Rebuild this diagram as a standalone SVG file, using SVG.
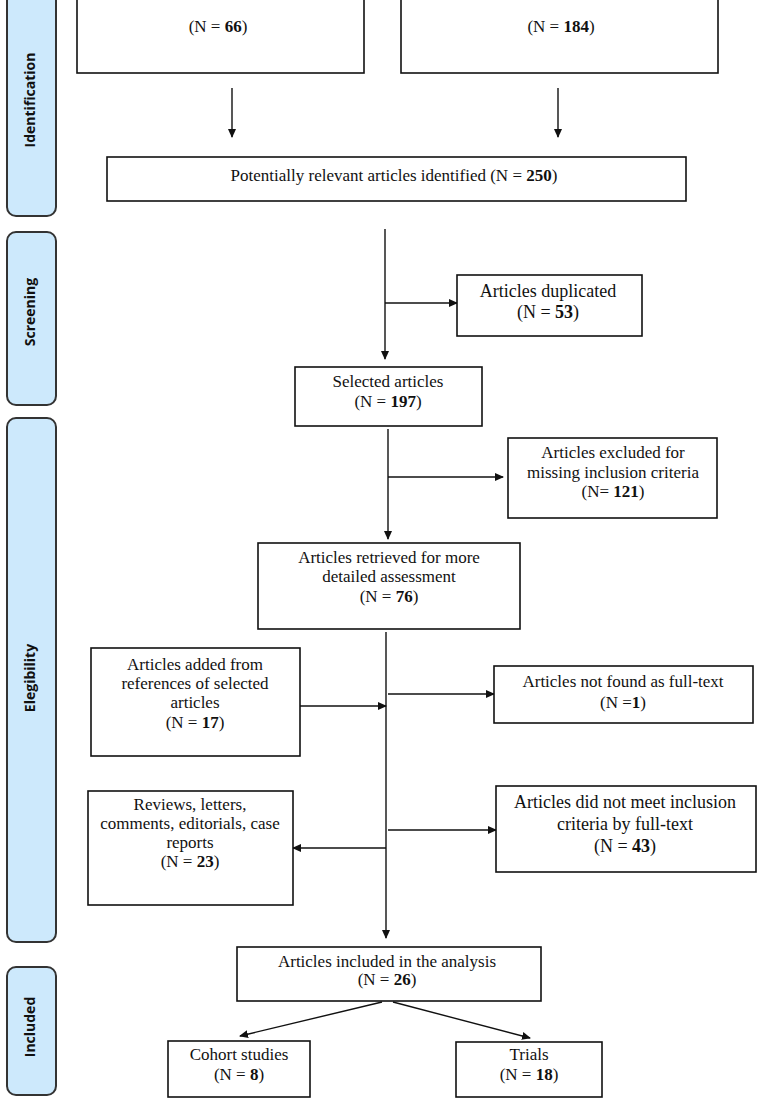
<svg xmlns="http://www.w3.org/2000/svg" width="762" height="1104" viewBox="0 0 762 1104">
<style>
.bx{fill:#fff;stroke:#111;stroke-width:1.6}
.bar{fill:#cde9fc;stroke:#333;stroke-width:2}
.t{font-family:"Liberation Serif","Times New Roman",serif;font-size:17px;fill:#111;text-anchor:middle}
.b{font-weight:bold}
.lab{font-family:"Open Sans","Liberation Sans",sans-serif;font-weight:bold;font-size:14px;fill:#111;text-anchor:middle}
.ln{fill:none;stroke:#111;stroke-width:1.4}
</style>
<defs>
<marker id="ah" markerWidth="9" markerHeight="8" refX="8" refY="4" orient="auto" markerUnits="userSpaceOnUse">
<path d="M0,0 L9,4 L0,8 Z" fill="#111"/>
</marker>
</defs>
<rect x="0" y="0" width="762" height="1104" fill="#fff"/>

<g id="phase-identification">
<rect class="bar" x="7" y="-20" width="49" height="236" rx="9"/>
<text class="lab" transform="translate(35,100) rotate(-90)">Identification</text>
</g>
<g id="phase-screening">
<rect class="bar" x="7" y="232" width="49" height="173" rx="9"/>
<text class="lab" transform="translate(35,312) rotate(-90)">Screening</text>
</g>
<g id="phase-elegibility">
<rect class="bar" x="7" y="418" width="49" height="524" rx="9"/>
<text class="lab" transform="translate(35,678) rotate(-90)">Elegibility</text>
</g>
<g id="phase-included">
<rect class="bar" x="7" y="967" width="49" height="128" rx="9"/>
<text class="lab" transform="translate(35,1027) rotate(-90)">Included</text>
</g>

<g id="connectors">
<line class="ln" x1="232" y1="88" x2="232" y2="137" marker-end="url(#ah)"/>
<line class="ln" x1="558" y1="88" x2="558" y2="137" marker-end="url(#ah)"/>
<line class="ln" x1="385" y1="229" x2="385" y2="359" marker-end="url(#ah)"/>
<line class="ln" x1="385" y1="303" x2="457" y2="303" marker-end="url(#ah)"/>
<line class="ln" x1="388" y1="429" x2="388" y2="539" marker-end="url(#ah)"/>
<line class="ln" x1="388" y1="477" x2="503" y2="477" marker-end="url(#ah)"/>
<line class="ln" x1="386" y1="632" x2="386" y2="938" marker-end="url(#ah)"/>
<line class="ln" x1="388" y1="694" x2="494" y2="694" marker-end="url(#ah)"/>
<line class="ln" x1="300" y1="706" x2="386" y2="706" marker-end="url(#ah)"/>
<line class="ln" x1="388" y1="830" x2="496" y2="830" marker-end="url(#ah)"/>
<line class="ln" x1="386" y1="848" x2="293" y2="848" marker-end="url(#ah)"/>
<line class="ln" x1="382" y1="1002" x2="240" y2="1036" marker-end="url(#ah)"/>
<line class="ln" x1="393" y1="1002" x2="530" y2="1038" marker-end="url(#ah)"/>
</g>

<g id="n-db1">
<rect class="bx" x="77" y="-30" width="287" height="103"/>
<text class="t" x="218" y="32">(N = <tspan class="b">66</tspan>)</text>
</g>
<g id="n-db2">
<rect class="bx" x="401" y="-30" width="317" height="103"/>
<text class="t" x="561" y="32">(N = <tspan class="b">184</tspan>)</text>
</g>
<g id="n-potential">
<rect class="bx" x="107" y="157" width="579" height="44"/>
<text class="t" x="394" y="181">Potentially relevant articles identified (N = <tspan class="b">250</tspan>)</text>
</g>
<g id="n-duplicated">
<rect class="bx" x="457" y="275" width="185" height="61"/>
<text class="t" x="548" y="297" style="font-size:18px">Articles duplicated</text>
<text class="t" x="548" y="318" style="font-size:18px">(N = <tspan class="b">53</tspan>)</text>
</g>
<g id="n-selected">
<rect class="bx" x="295" y="367" width="187" height="59"/>
<text class="t" x="388" y="387">Selected articles</text>
<text class="t" x="388" y="407">(N = <tspan class="b">197</tspan>)</text>
</g>
<g id="n-excluded">
<rect class="bx" x="508" y="438" width="209" height="80"/>
<text class="t" x="613" y="458">Articles excluded for</text>
<text class="t" x="613" y="478">missing inclusion criteria</text>
<text class="t" x="613" y="497">(N= <tspan class="b">121</tspan>)</text>
</g>
<g id="n-retrieved">
<rect class="bx" x="258" y="543" width="262" height="86"/>
<text class="t" x="389" y="563">Articles retrieved for more</text>
<text class="t" x="389" y="582">detailed assessment</text>
<text class="t" x="389" y="602">(N = <tspan class="b">76</tspan>)</text>
</g>
<g id="n-added">
<rect class="bx" x="91" y="648" width="209" height="108"/>
<text class="t" x="195" y="670">Articles added from</text>
<text class="t" x="195" y="689">references of selected</text>
<text class="t" x="195" y="708">articles</text>
<text class="t" x="195" y="728">(N = <tspan class="b">17</tspan>)</text>
</g>
<g id="n-notfound">
<rect class="bx" x="494" y="666" width="259" height="57"/>
<text class="t" x="623" y="687">Articles not found as full-text</text>
<text class="t" x="623" y="708">(N =<tspan class="b">1</tspan>)</text>
</g>
<g id="n-reviews">
<rect class="bx" x="88" y="791" width="205" height="114"/>
<text class="t" x="190" y="810">Reviews, letters,</text>
<text class="t" x="190" y="829">comments, editorials, case</text>
<text class="t" x="190" y="848">reports</text>
<text class="t" x="190" y="867">(N = <tspan class="b">23</tspan>)</text>
</g>
<g id="n-notmeet">
<rect class="bx" x="496" y="786" width="260" height="86"/>
<text class="t" x="625" y="808" style="font-size:18px">Articles did not meet inclusion</text>
<text class="t" x="625" y="830" style="font-size:18px">criteria by full-text</text>
<text class="t" x="625" y="852" style="font-size:18px">(N = <tspan class="b">43</tspan>)</text>
</g>
<g id="n-included">
<rect class="bx" x="237" y="947" width="304" height="54"/>
<text class="t" x="387" y="967">Articles included in the analysis</text>
<text class="t" x="387" y="985">(N = <tspan class="b">26</tspan>)</text>
</g>
<g id="n-cohort">
<rect class="bx" x="168" y="1041" width="142" height="56"/>
<text class="t" x="239" y="1060">Cohort studies</text>
<text class="t" x="239" y="1080">(N = <tspan class="b">8</tspan>)</text>
</g>
<g id="n-trials">
<rect class="bx" x="456" y="1042" width="146" height="55"/>
<text class="t" x="529" y="1060">Trials</text>
<text class="t" x="529" y="1080">(N = <tspan class="b">18</tspan>)</text>
</g>
</svg>
